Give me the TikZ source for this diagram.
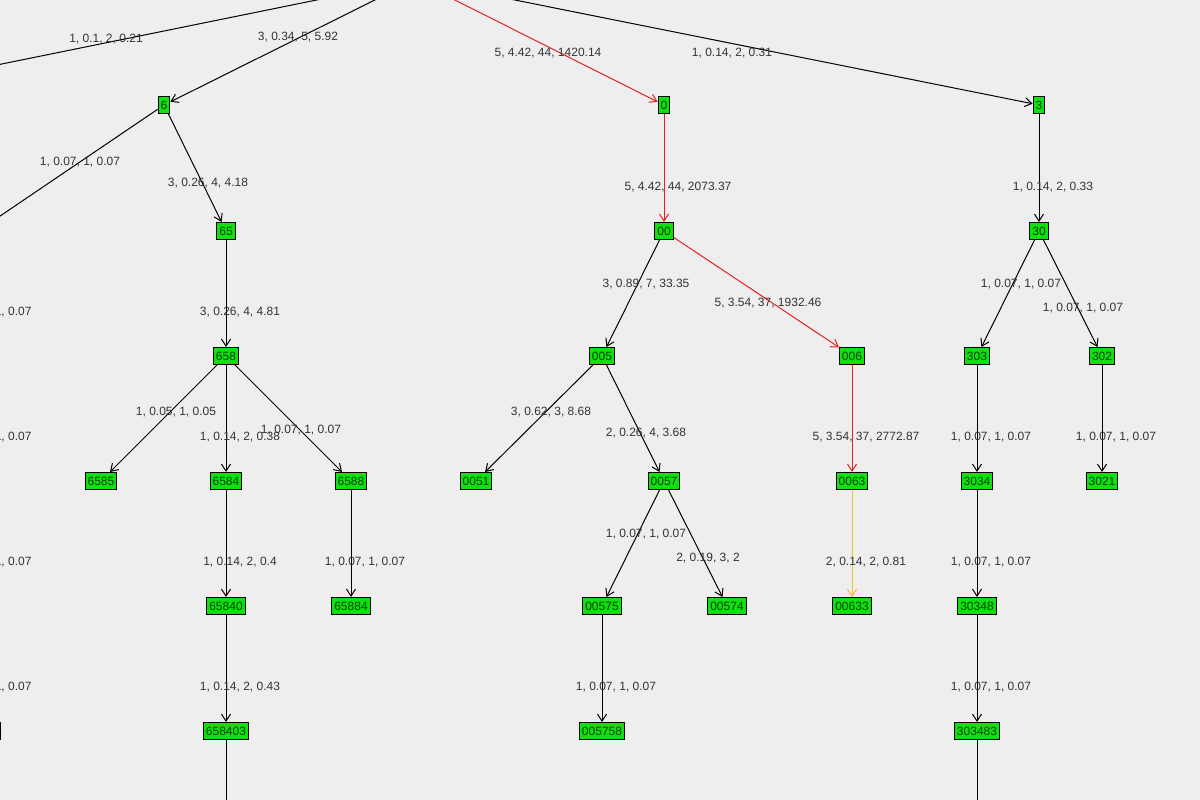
\documentclass[tikz,border=0pt]{standalone}
\usepackage{fontspec}
\setmainfont{Liberation Sans}
\usetikzlibrary{arrows.meta}
\definecolor{bgcol}{HTML}{EEEEEE}
\definecolor{nodecol}{HTML}{10E010}
\definecolor{txtcol}{HTML}{333333}
\definecolor{hotred}{HTML}{E82020}
\definecolor{hotyellow}{HTML}{F0C020}

\begin{document}
\begin{tikzpicture}[x=1pt, y=-1pt, line width=1pt,
    every node/.style={font=\fontsize{12}{12}\selectfont, text=txtcol},
    tnode/.style={draw=black, fill=nodecol, inner xsep=2.5pt, inner ysep=1.5pt, minimum height=17pt,
      font=\fontsize{12}{12}\selectfont, text=black!75!green},
    lbl/.style={inner sep=0pt},
    edge/.style={draw=black, -{Straight Barb[length=7pt, width=9pt]}},
    hot/.style={edge, draw=hotred},
    warm/.style={edge, draw=hotyellow}]
      \useasboundingbox (0,0) rectangle (1200,800);
      \fill[bgcol] (0,0) rectangle (1200,800);
      \clip (0,0) rectangle (1200,800);
      % tree nodes
      \coordinate (root) at (415,-20);
      \coordinate (lft) at (-200,105);
      \coordinate (lft6) at (-22,231);
      \node[tnode] (n6) at (164,105) {6};
      \node[tnode] (n0) at (664,105) {0};
      \node[tnode] (n3) at (1039,105) {3};
      \node[tnode] (n65) at (226,231) {65};
      \node[tnode] (n00) at (664,231) {00};
      \node[tnode] (n30) at (1039,231) {30};
      \node[tnode] (n658) at (226,356) {658};
      \node[tnode] (n005) at (602,356) {005};
      \node[tnode] (n006) at (852,356) {006};
      \node[tnode] (n303) at (977,356) {303};
      \node[tnode] (n302) at (1102,356) {302};
      \node[tnode] (n6585) at (101,481) {6585};
      \node[tnode] (n6584) at (226,481) {6584};
      \node[tnode] (n6588) at (351,481) {6588};
      \node[tnode] (n0051) at (476,481) {0051};
      \node[tnode] (n0057) at (664,481) {0057};
      \node[tnode] (n0063) at (852,481) {0063};
      \node[tnode] (n3034) at (977,481) {3034};
      \node[tnode] (n3021) at (1102,481) {3021};
      \node[tnode] (n65840) at (226,606) {65840};
      \node[tnode] (n65884) at (351,606) {65884};
      \node[tnode] (n00575) at (602,606) {00575};
      \node[tnode] (n00574) at (727,606) {00574};
      \node[tnode] (n00633) at (852,606) {00633};
      \node[tnode] (n30348) at (977,606) {30348};
      \node[tnode] (n658403) at (226,731) {658403};
      \node[tnode] (n005758) at (602,731) {005758};
      \node[tnode] (n303483) at (977,731) {303483};
      \node[tnode, anchor=east] (nleft) at (0.6,731) {000000};
      \coordinate (below1) at (226,820);
      \coordinate (below2) at (977,820);
      % connectors
      \draw[edge] (root) -- (lft);
      \draw[edge] (root) -- (n6);
      \draw[hot] (root) -- (n0);
      \draw[edge] (root) -- (n3);
      \draw[edge] (n6) -- (lft6);
      \draw[edge] (n6) -- (n65);
      \draw[hot] (n0) -- (n00);
      \draw[edge] (n3) -- (n30);
      \draw[edge] (n65) -- (n658);
      \draw[edge] (n00) -- (n005);
      \draw[hot] (n00) -- (n006);
      \draw[edge] (n30) -- (n303);
      \draw[edge] (n30) -- (n302);
      \draw[edge] (n658) -- (n6585);
      \draw[edge] (n658) -- (n6584);
      \draw[edge] (n658) -- (n6588);
      \draw[edge] (n005) -- (n0051);
      \draw[edge] (n005) -- (n0057);
      \draw[hot] (n006) -- (n0063);
      \draw[edge] (n303) -- (n3034);
      \draw[edge] (n302) -- (n3021);
      \draw[edge] (n6584) -- (n65840);
      \draw[edge] (n6588) -- (n65884);
      \draw[edge] (n0057) -- (n00575);
      \draw[edge] (n0057) -- (n00574);
      \draw[warm] (n0063) -- (n00633);
      \draw[edge] (n3034) -- (n30348);
      \draw[edge] (n65840) -- (n658403);
      \draw[edge] (n00575) -- (n005758);
      \draw[edge] (n30348) -- (n303483);
      \draw (n658403) -- (below1);
      \draw (n303483) -- (below2);
      % edge labels
      \node[lbl] (l1) at (106,39) {1, 0.1, 2, 0.21};
      \node[lbl] (l2) at (298,37) {3, 0.34, 5, 5.92};
      \node[lbl] (l3) at (548,53) {5, 4.42, 44, 1420.14};
      \node[lbl] (l4) at (732,53) {1, 0.14, 2, 0.31};
      \node[lbl] (l5) at (80,162) {1, 0.07, 1, 0.07};
      \node[lbl] (l6) at (208,183) {3, 0.26, 4, 4.18};
      \node[lbl] (l7) at (678,187) {5, 4.42, 44, 2073.37};
      \node[lbl] (l8) at (1053,187) {1, 0.14, 2, 0.33};
      \node[lbl] (l9) at (240,312) {3, 0.26, 4, 4.81};
      \node[lbl] (l10) at (646,284) {3, 0.89, 7, 33.35};
      \node[lbl] (l11) at (768,303) {5, 3.54, 37, 1932.46};
      \node[lbl] (l12) at (1021,284) {1, 0.07, 1, 0.07};
      \node[lbl] (l13) at (1083,308) {1, 0.07, 1, 0.07};
      \node[lbl] (l14) at (176,412) {1, 0.05, 1, 0.05};
      \node[lbl] (l15) at (240,437) {1, 0.14, 2, 0.38};
      \node[lbl] (l16) at (301,430) {1, 0.07, 1, 0.07};
      \node[lbl] (l17) at (551,412) {3, 0.62, 3, 8.68};
      \node[lbl] (l18) at (646,433) {2, 0.26, 4, 3.68};
      \node[lbl] (l19) at (866,437) {5, 3.54, 37, 2772.87};
      \node[lbl] (l20) at (991,437) {1, 0.07, 1, 0.07};
      \node[lbl] (l21) at (1116,437) {1, 0.07, 1, 0.07};
      \node[lbl] (l22) at (240,562) {1, 0.14, 2, 0.4};
      \node[lbl] (l23) at (365,562) {1, 0.07, 1, 0.07};
      \node[lbl] (l24) at (646,534) {1, 0.07, 1, 0.07};
      \node[lbl] (l25) at (708,558) {2, 0.19, 3, 2};
      \node[lbl] (l26) at (866,562) {2, 0.14, 2, 0.81};
      \node[lbl] (l27) at (991,562) {1, 0.07, 1, 0.07};
      \node[lbl] (l28) at (240,687) {1, 0.14, 2, 0.43};
      \node[lbl] (l29) at (616,687) {1, 0.07, 1, 0.07};
      \node[lbl] (l30) at (991,687) {1, 0.07, 1, 0.07};
      \node[lbl, anchor=east] (l31) at (32,312) {1, 0.07, 1, 0.07};
      \node[lbl, anchor=east] (l32) at (32,437) {1, 0.07, 1, 0.07};
      \node[lbl, anchor=east] (l33) at (32,562) {1, 0.07, 1, 0.07};
      \node[lbl, anchor=east] (l34) at (32,687) {1, 0.07, 1, 0.07};
    \end{tikzpicture}
\end{document}
